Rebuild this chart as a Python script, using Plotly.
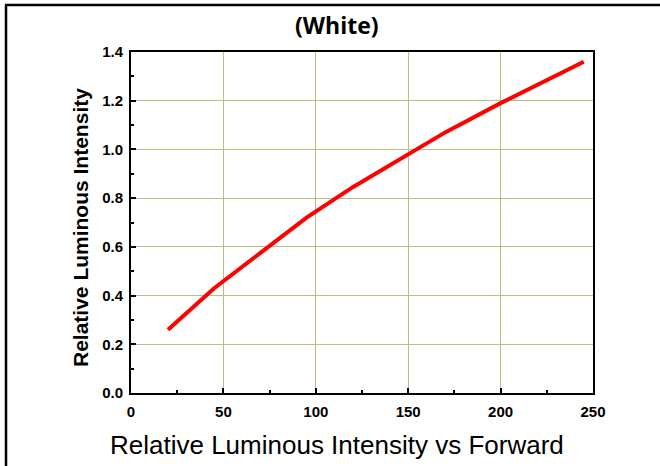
import plotly.graph_objects as go

current_ma = [20, 45, 95, 120, 170, 200, 245]
rel_intensity = [0.26, 0.43, 0.72, 0.845, 1.07, 1.19, 1.36]
x_ticks = [0, 50, 100, 150, 200, 250]
y_ticks = [0.0, 0.2, 0.4, 0.6, 0.8, 1.0, 1.2, 1.4]

W, H = 660, 466
L, R, T, B = 131, 67, 52, 73
pw, ph = W - L - R, H - T - B

def px(x):
    return (x - L) / pw

def py(y):
    return (H - B - y) / ph

fig = go.Figure()
fig.add_trace(go.Scatter(x=current_ma, y=rel_intensity, mode="lines",
                         line=dict(color="#ff0000", width=4), showlegend=False))

grid = "#bdbd80"
axis_common = dict(showline=True, linecolor="black", linewidth=2, mirror=True,
                   ticks="inside", ticklen=5, tickwidth=2, tickcolor="black",
                   showgrid=True, gridcolor=grid, gridwidth=1, zeroline=False,
                   tickfont=dict(family="Liberation Sans", size=15, color="black", weight="bold"))

fig.update_xaxes(range=[0, 250], tickvals=x_ticks, ticktext=[str(v) for v in x_ticks],
                 ticklabelstandoff=4,
                 minor=dict(ticks="inside", ticklen=3, tickwidth=1.5, tickcolor="black", dtick=25, tick0=0, showgrid=False),
                 **axis_common)
fig.update_yaxes(range=[0, 1.4], tickvals=y_ticks, ticktext=[f"{v:.1f}" for v in y_ticks],
                 ticklabelstandoff=3,
                 minor=dict(ticks="inside", ticklen=3, tickwidth=1.5, tickcolor="black", dtick=0.1, tick0=0, showgrid=False),
                 **axis_common)

fig.update_layout(
    width=W, height=H,
    margin=dict(l=L, r=R, t=T, b=B),
    paper_bgcolor="white", plot_bgcolor="white",
    annotations=[
        dict(text="<b>(White)</b>", x=px(337), y=py(25), xref="paper", yref="paper",
             xanchor="center", yanchor="middle",
             showarrow=False, font=dict(family="Open Sans", size=23, color="black")),
        dict(text="<b>Relative Luminous Intensity</b>", x=px(80), y=py(228), xref="paper", yref="paper",
             xanchor="center", yanchor="middle",
             showarrow=False, textangle=-90, font=dict(family="Liberation Sans", size=21, color="black")),
        dict(text="Relative Luminous Intensity vs Forward", x=px(337), y=py(445), xref="paper", yref="paper",
             xanchor="center", yanchor="middle",
             showarrow=False, font=dict(family="Liberation Sans", size=26, color="black")),
    ],
    shapes=[
        dict(type="line", xref="paper", yref="paper", x0=px(5), x1=px(660), y0=py(5), y1=py(5),
             line=dict(color="black", width=2.5)),
        dict(type="line", xref="paper", yref="paper", x0=px(6), x1=px(6), y0=py(5), y1=py(466),
             line=dict(color="black", width=2.5)),
    ],
)

fig.write_html("out.html", config={"displayModeBar": False},
               post_script="document.body.style.margin='0';document.body.style.overflow='hidden';")
